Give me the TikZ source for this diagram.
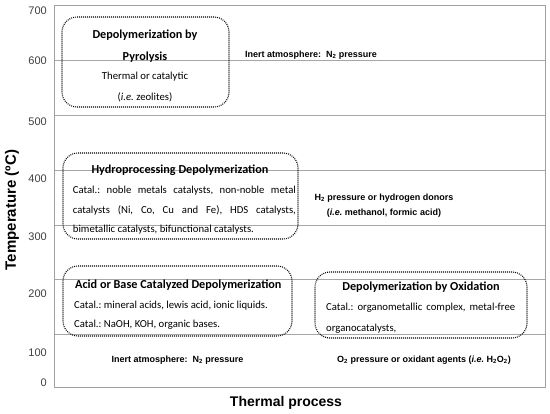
\documentclass[tikz,border=0pt]{standalone}
\usepackage{fontspec}
\setmainfont{Carlito}
\newfontfamily\arial{Liberation Sans}
\definecolor{gridgray}{HTML}{A6A6A6}
\definecolor{framegray}{HTML}{A0A0A0}
\definecolor{numgray}{HTML}{404040}
\frenchspacing
\begin{document}
\begin{tikzpicture}[x=1pt,y=-1pt,
  gridline/.style={draw=gridgray, line width=0.9pt},
  frameline/.style={draw=framegray, line width=1pt},
  boxdot/.style={draw=black, line width=1.1pt, dash pattern=on 0.9pt off 1.1pt, rounded corners=15pt, inner sep=0pt},
  ttl/.style={font=\bfseries\fontsize{12.2}{14}\selectfont, inner sep=0pt},
  body/.style={font=\fontsize{10.7}{12}\selectfont\frenchspacing, inner sep=0pt},
  ann/.style={font=\arial\bfseries\fontsize{9}{11}\selectfont, inner sep=0pt},
  tick/.style={font=\arial\fontsize{11}{13}\selectfont, text=numgray, anchor=east, inner sep=0pt},
  axlabel/.style={font=\arial\bfseries\fontsize{14}{16}\selectfont, inner sep=0pt}]
\useasboundingbox (0,0) rectangle (550,414);
\fill[white] (0,0) rectangle (550,414);
% grid and frame
\foreach \yy in {60.7,115.5,170.2,225.5,279.5,334} \draw[gridline] (54,\yy) -- (545,\yy);
\draw[frameline] (54,5.7) rectangle (545,388);
% tick labels
\node[tick] (t700) at (47,10.7) {700};
\node[tick] (t600) at (47,60.7) {600};
\node[tick] (t500) at (47,121.7) {500};
\node[tick] (t400) at (47,179) {400};
\node[tick] (t300) at (47,236.7) {300};
\node[tick] (t200) at (47,294) {200};
\node[tick] (t100) at (47,353) {100};
\node[tick] (t0) at (47,383) {0};
% axis labels
\node[axlabel, rotate=90, font=\arial\bfseries\fontsize{15}{17}\selectfont] (ylab) at (12,210) {Temperature (ºC)};
\node[axlabel] (xlab) at (286,403) {Thermal process};
% boxes
\node[boxdot, minimum width=167pt, minimum height=90pt] (pyro) at (145.5,62) {};
\node[boxdot, minimum width=235pt, minimum height=86pt] (hydro) at (180.5,196) {};
\node[boxdot, minimum width=229pt, minimum height=70pt] (acid) at (177.5,301) {};
\node[boxdot, minimum width=212pt, minimum height=66pt] (oxid) at (421,305) {};
% pyrolysis text
\node[ttl] (p1) at (145,35) {Depolymerization by};
\node[ttl] (p2) at (145,57) {Pyrolysis};
\node[body] (p3) at (145,77) {Thermal or catalytic};
\node[body] (p4) at (145,97) {(\textit{i.e.} zeolites)};
% hydro text
\node[ttl] (h1) at (180,170) {Hydroprocessing Depolymerization};
\node[body, anchor=west] (h2) at (72.7,191) {\makebox[223pt][s]{Catal.: noble metals catalysts, non-noble metal}};
\node[body, anchor=west] (h3) at (72.7,210) {\makebox[223pt][s]{catalysts (Ni, Co, Cu and Fe), HDS catalysts,}};
\node[body, anchor=west] (h4) at (72.7,230) {bimetallic catalysts, bifunctional catalysts.};
% acid text
\node[ttl, anchor=west] (a1) at (75,285) {Acid or Base Catalyzed Depolymerization};
\node[body, anchor=west] (a2) at (74,306) {Catal.: mineral acids, lewis acid, ionic liquids.};
\node[body, anchor=west] (a3) at (74,325) {Catal.: NaOH, KOH, organic bases.};
% oxidation text
\node[ttl] (o1) at (421,287) {Depolymerization by Oxidation};
\node[body, anchor=west] (o2) at (326,308) {\makebox[189pt][s]{Catal.: organometallic complex, metal-free}};
\node[body, anchor=west] (o3) at (326,329) {organocatalysts,};
% annotations
\node[ann] (n1) at (311,55) {Inert atmosphere:\ \ N\textsubscript{2} pressure};
\node[ann] (n2) at (384,198) {H\textsubscript{2} pressure or hydrogen donors};
\node[ann] (n3) at (384,213) {(\textit{i.e.} methanol,\ formic acid)};
\node[ann] (n4) at (177.5,360) {Inert atmosphere:\ \ N\textsubscript{2} pressure};
\node[ann] (n5) at (424,360) {O\textsubscript{2} pressure or oxidant agents (\textit{i.e.} H\textsubscript{2}O\textsubscript{2})};
\end{tikzpicture}
\end{document}
